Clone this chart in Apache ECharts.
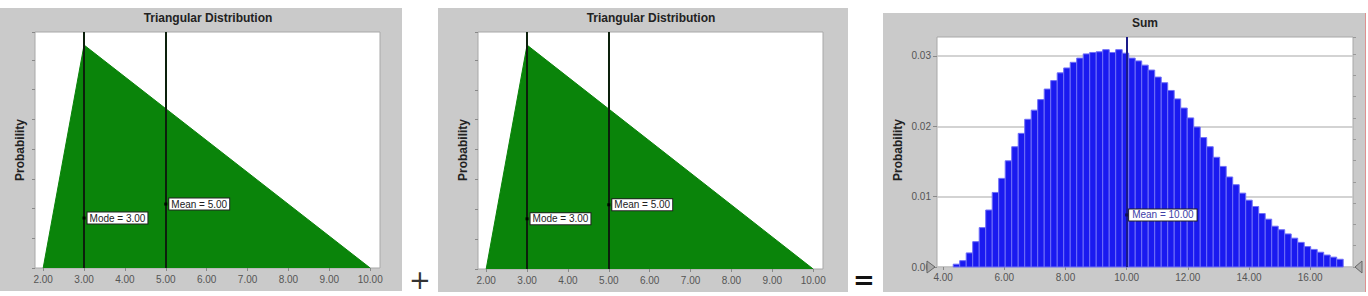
<!DOCTYPE html>
<html>
<head>
<meta charset="utf-8">
<script src="https://cdn.jsdelivr.net/npm/echarts@6.0.0/dist/echarts.min.js"></script>
<style>
  html, body { margin:0; padding:0; background:#fff; width:1368px; height:296px; overflow:hidden; }
  .panel { position:absolute; background:#cacaca; }
  #chart { position:absolute; left:0; top:0; width:1368px; height:296px; }
</style>
</head>
<body>
<div class="panel" style="left:0;top:8px;width:402px;height:283px;"></div>
<div class="panel" style="left:438px;top:8px;width:410px;height:284px;"></div>
<div class="panel" style="left:883px;top:13px;width:482px;height:279px;"></div>
<div style="position:absolute;left:1365px;top:13px;width:1px;height:279px;background:#e09090;"></div>
<div id="chart"></div>
<script>
// ---- data ----
const triX = [2, 3, 10];
const triY = [0, 0.25, 0];
const triTicks = [2, 3, 4, 5, 6, 7, 8, 9, 10];
const triMode = 3;
const triMean = 5;
const triModeLabelY = 0.056;
const triMeanLabelY = 0.0717;
const triTitle = 'Triangular Distribution';
const sumTitle = 'Sum';
const yName = 'Probability';
const modeText = 'Mode = 3.00';
const meanText = 'Mean = 5.00';
const sumMeanText = 'Mean = 10.00';
const sumMean = 10;
const sumMeanLabelY = 0.0074;
const sumTicks = [4, 6, 8, 10, 12, 14, 16];
const sumYTicks = [0, 0.01, 0.02, 0.03];
const BIN_START = 4.33;
const BIN_WIDTH = 0.2125;
const sumHeights = [0.0004,0.0009,0.0020,0.0036,0.0056,0.0081,0.0106,0.0126,0.0151,0.0171,
  0.0190,0.0210,0.0223,0.0238,0.0253,0.0265,0.0276,0.0283,0.0291,0.0297,
  0.0303,0.0305,0.0306,0.0309,0.0305,0.0309,0.0304,0.0297,0.0293,0.0287,
  0.0280,0.0270,0.0262,0.0251,0.0239,0.0226,0.0212,0.0199,0.0184,0.0171,
  0.0156,0.0143,0.0128,0.0117,0.0105,0.0095,0.0086,0.0076,0.0068,0.0058,
  0.0053,0.0047,0.0041,0.0035,0.0029,0.0025,0.0021,0.0017,0.0014,0.0011];

// ---- chart ----
const FONT = '"Liberation Sans", Arial, sans-serif';
const chart = echarts.init(document.getElementById('chart'), null, {renderer:'svg'});

const triPts = triX.map((x, i) => [x, triY[i]]);
const histData = sumHeights.map((h, i) => [BIN_START + i * BIN_WIDTH, BIN_START + (i + 1) * BIN_WIDTH, h]);

function triXAxis(gi) {
  return {
    type:'value', gridIndex:gi, min:1.8, max:10.24,
    axisLine:{show:false}, splitLine:{show:false},
    axisTick:{show:true, customValues:triTicks, length:3, lineStyle:{color:'#888'}},
    axisLabel:{customValues:triTicks, formatter:v => v.toFixed(2), fontSize:10, color:'#555', fontFamily:FONT, margin:6}
  };
}
function triYAxis(gi) {
  return {
    type:'value', gridIndex:gi, min:0, max:0.2646, interval:1/30,
    axisLine:{show:false}, splitLine:{show:false},
    axisTick:{show:true, length:3, lineStyle:{color:'#888'}},
    axisLabel:{show:false}
  };
}
const labelBox = {show:true, position:'right', fontSize:10, fontFamily:FONT,
  backgroundColor:'#ffffff', borderColor:'#222', borderWidth:1, opacity:1};
function triSeries(gi) {
  return [
    {
      type:'line', xAxisIndex:gi, yAxisIndex:gi, data:triPts, symbol:'none',
      lineStyle:{color:'#0a840a', width:1}, areaStyle:{color:'#0a840a', opacity:1},
      markLine:{silent:true, symbol:['none','none'], label:{show:false},
        lineStyle:{color:'#0c200c', width:2, type:'solid'},
        data:[{xAxis:triMode},{xAxis:triMean}]},
      z:2
    },
    {
      type:'scatter', xAxisIndex:gi, yAxisIndex:gi, symbol:'rect', symbolSize:3,
      itemStyle:{color:'#000', opacity:1}, z:5,
      data:[
        {value:[triMode, triModeLabelY], label:{formatter:modeText}},
        {value:[triMean, triMeanLabelY], label:{formatter:meanText}}
      ],
      label:Object.assign({}, labelBox, {distance:2, color:'#222', padding:[1,2,0,2]})
    }
  ];
}

const option = {
  animation:false,
  grid:[
    {left:35, top:32, width:345, height:236, show:true, backgroundColor:'#fff', borderColor:'#a8a8a8', borderWidth:1},
    {left:478, top:32, width:345, height:237, show:true, backgroundColor:'#fff', borderColor:'#a8a8a8', borderWidth:1},
    {left:937, top:37, width:416, height:230, show:true, backgroundColor:'#fff', borderColor:'#a8a8a8', borderWidth:1}
  ],
  xAxis:[
    triXAxis(0), triXAxis(1),
    {
      type:'value', gridIndex:2, min:3.8, max:17.4,
      axisLine:{show:false}, splitLine:{show:false},
      axisTick:{show:true, customValues:sumTicks, length:3, lineStyle:{color:'#888'}},
      axisLabel:{customValues:sumTicks, formatter:v => v.toFixed(2), fontSize:10, color:'#555', fontFamily:FONT, margin:5}
    }
  ],
  yAxis:[
    triYAxis(0), triYAxis(1),
    {
      type:'value', gridIndex:2, min:0, max:0.0327,
      axisLine:{show:false},
      splitLine:{show:true, lineStyle:{color:'#c4c4c4', width:1.5}},
      axisTick:{show:true, customValues:sumYTicks, length:4, lineStyle:{color:'#888'}},
      axisLabel:{customValues:sumYTicks, fontSize:10, color:'#555', fontFamily:FONT, margin:6, formatter:v => v.toFixed(2)}
    },
    {
      type:'value', gridIndex:2, position:'right', min:0, max:10.8, interval:1,
      axisLine:{show:false}, splitLine:{show:false},
      axisTick:{show:true, length:3, lineStyle:{color:'#999'}},
      axisLabel:{show:false}
    }
  ],
  series:[
    ...triSeries(0), ...triSeries(1),
    {
      type:'custom', xAxisIndex:2, yAxisIndex:2, data:histData, encode:{x:[0,1], y:2},
      renderItem:(params, api) => {
        const p0 = api.coord([api.value(0), api.value(2)]);
        const p1 = api.coord([api.value(1), 0]);
        return {type:'rect', shape:{x:p0[0], y:p0[1], width:p1[0]-p0[0], height:p1[1]-p0[1]},
          style:{fill:'#1a1af0', stroke:'#6f6ff8', lineWidth:1}};
      },
      z:2
    },
    {
      type:'scatter', xAxisIndex:2, yAxisIndex:2, symbol:'rect', symbolSize:3,
      itemStyle:{color:'#101050', opacity:1}, z:5,
      data:[{value:[sumMean, sumMeanLabelY], label:{formatter:sumMeanText}}],
      label:Object.assign({}, labelBox, {distance:1, color:'#4040a8', padding:[1,3,0,3]}),
      markLine:{silent:true, symbol:['none','none'], label:{show:false},
        lineStyle:{color:'#1a1a88', width:2, type:'solid'}, data:[{xAxis:sumMean}]}
    }
  ],
  graphic:[
    {type:'text', x:208, y:18, style:{text:triTitle, font:'bold 12px ' + FONT, fill:'#222', align:'center', verticalAlign:'middle'}},
    {type:'text', x:651, y:18, style:{text:triTitle, font:'bold 12px ' + FONT, fill:'#222', align:'center', verticalAlign:'middle'}},
    {type:'text', x:1145, y:23, style:{text:sumTitle, font:'bold 12px ' + FONT, fill:'#222', align:'center', verticalAlign:'middle'}},
    {type:'text', x:20, y:150, rotation:Math.PI/2, style:{text:yName, font:'bold 12px ' + FONT, fill:'#222', align:'center', verticalAlign:'middle'}},
    {type:'text', x:463, y:150, rotation:Math.PI/2, style:{text:yName, font:'bold 12px ' + FONT, fill:'#222', align:'center', verticalAlign:'middle'}},
    {type:'text', x:898, y:150, rotation:Math.PI/2, style:{text:yName, font:'bold 12px ' + FONT, fill:'#222', align:'center', verticalAlign:'middle'}},
    {type:'text', x:420, y:280, style:{text:'+', font:'26px "DejaVu Sans", sans-serif', fill:'#333', align:'center', verticalAlign:'middle'}},
    {type:'text', x:864, y:280, style:{text:'=', font:'bold 26px "DejaVu Sans", sans-serif', fill:'#111', align:'center', verticalAlign:'middle'}},
    {type:'polygon', shape:{points:[[927,261],[935,267],[927,273]]}, style:{fill:'#aaa', stroke:'#666', lineWidth:1}, z:10},
    {type:'polygon', shape:{points:[[1362,261],[1355,267],[1362,273]]}, style:{fill:'#aaa', stroke:'#666', lineWidth:1}, z:10}
  ]
};
chart.setOption(option);
</script>
</body>
</html>
